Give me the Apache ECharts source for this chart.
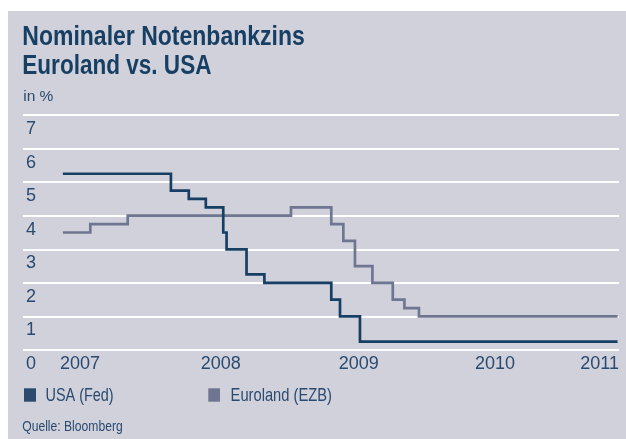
<!DOCTYPE html>
<html><head><meta charset="utf-8">
<script src="https://cdn.jsdelivr.net/npm/echarts@6/dist/echarts.min.js"></script>
<style>html,body{margin:0;padding:0;background:#fff}#c{width:626px;height:439px}</style>
</head><body><div id="c"></div>
<script>
// ---- data ----
const fedDates = ['2007-01-01','2007-09-18','2007-10-31','2007-12-11','2008-01-22','2008-01-30','2008-03-18','2008-04-30','2008-10-08','2008-10-29','2008-12-16','2010-08-28'];
const fedRates = [5.25, 4.75, 4.5, 4.25, 3.5, 3.0, 2.25, 2.0, 1.5, 1.0, 0.25, 0.25];
const ezbDates = ['2007-01-01','2007-03-08','2007-06-06','2008-07-03','2008-10-08','2008-11-06','2008-12-04','2009-01-15','2009-03-05','2009-04-02','2009-05-07','2010-08-28'];
const ezbRates = [3.5, 3.75, 4.0, 4.25, 3.75, 3.25, 2.5, 2.0, 1.5, 1.25, 1.0, 1.0];
const seriesNames = ['USA (Fed)', 'Euroland (EZB)'];
const yearLabels = ['2007', '2008', '2009', '2010', '2011'];
const yearLabelAnchors = ['2007-02-11', '2008-01-16', '2008-12-13', '2009-11-06', '2010-07-16'];
const yMin = 0, yMax = 7, yStep = 1;
const titleLines = ['Nominaler Notenbankzins', 'Euroland vs. USA'];
const unitText = 'in %';
const sourceText = 'Quelle: Bloomberg';

const FONT = "'Liberation Sans', Arial, sans-serif";
const NAVY = '#173f63';
const GREY = '#6f7691';
const TXT = '#2a4a6f';
const FED_SQ = '#2b4a6e';

const ts = s => Date.UTC(+s.slice(0, 4), +s.slice(5, 7) - 1, +s.slice(8, 10));
const anchorTs = yearLabelAnchors.map(ts);
const zip = (d, v) => d.map((x, i) => [ts(x), v[i]]);
const MID = 0.3465; // canvas 'middle' offset above baseline (em)

function txt(text, x, baseline, fs, weight, color, sx) {
  return {type: 'text', x: x, y: baseline - MID * fs, scaleX: sx, silent: true, z: 10,
    style: {text: text, fontFamily: FONT, fontSize: fs, fontWeight: weight, fill: color,
            verticalAlign: 'middle', align: 'left'}};
}

const chart = echarts.init(document.getElementById('c'), null, {renderer: 'canvas'});
chart.setOption({
  animation: false,
  backgroundColor: '#ffffff',
  graphic: [
    {type: 'rect', z: -10, silent: true, shape: {x: 8, y: 11, width: 618, height: 428}, style: {fill: '#d0d1db'}},
    txt(titleLines[0], 22.3, 46.7, 27, 'bold', NAVY, 0.852),
    txt(titleLines[1], 22.3, 76.2, 27, 'bold', NAVY, 0.835),
    txt(unitText, 23.2, 101.7, 15.5, 'normal', TXT, 1),
    txt(sourceText, 22.2, 432.3, 14.8, 'normal', TXT, 0.82),
    {type: 'rect', silent: true, z: 10, shape: {x: 24, y: 388.3, width: 12, height: 13.4}, style: {fill: FED_SQ}},
    txt(seriesNames[0], 45.5, 402.7, 18.5, 'normal', TXT, 0.78),
    {type: 'rect', silent: true, z: 10, shape: {x: 208.3, y: 388.3, width: 11.7, height: 13.4}, style: {fill: GREY}},
    txt(seriesNames[1], 230.6, 402.7, 18.5, 'normal', TXT, 0.795)
  ],
  grid: {left: 23, right: 7, top: 115, bottom: 89, containLabel: false},
  xAxis: {
    type: 'value', min: ts('2006-09-27'), max: ts('2010-08-31') + 43200000, scale: true,
    axisLine: {show: false}, axisTick: {show: false}, splitLine: {show: false},
    axisLabel: {
      customValues: anchorTs, showMinLabel: true, showMaxLabel: true, hideOverlap: false,
      margin: 5, fontFamily: FONT, fontSize: 18, lineHeight: 18, color: TXT,
      formatter: v => { const i = anchorTs.indexOf(v); return i >= 0 ? yearLabels[i] : ''; }
    }
  },
  yAxis: {
    type: 'value', min: yMin, max: yMax, interval: yStep,
    axisLine: {show: false}, axisTick: {show: false},
    splitLine: {show: true, lineStyle: {color: '#ffffff', width: 2}},
    axisLabel: {inside: true, margin: 3, verticalAlign: 'top', padding: [5, 0, 0, 0],
      fontFamily: FONT, fontSize: 18, lineHeight: 18, color: TXT, showMinLabel: true, showMaxLabel: true}
  },
  series: [
    {name: seriesNames[0], type: 'line', step: 'end', data: zip(fedDates, fedRates), symbol: 'none',
     lineStyle: {color: NAVY, width: 2.7, join: 'miter', cap: 'butt'}, z: 3},
    {name: seriesNames[1], type: 'line', step: 'end', data: zip(ezbDates, ezbRates), symbol: 'none',
     lineStyle: {color: GREY, width: 2.7, join: 'miter', cap: 'butt'}, z: 2}
  ]
});
</script></body></html>
